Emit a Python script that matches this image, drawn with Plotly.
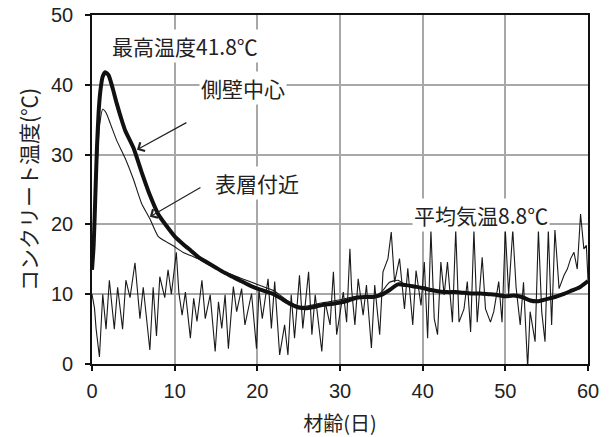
import plotly.graph_objects as go

# ---- data ----
core_day = [0, 0.2, 0.4, 0.6, 0.8, 1.0, 1.3, 1.6, 2.0, 2.5, 3, 3.5, 4, 5, 6, 7, 8, 9, 10,
            11, 12, 13, 14, 15, 16, 17, 18, 19, 20, 21, 22, 23, 24, 25, 26, 27, 28, 29, 30,
            31, 32, 33, 34, 35, 36, 37, 38, 39, 40, 41, 42, 43, 44, 45, 46, 47, 48, 49, 50,
            51, 52, 53, 54, 55, 56, 57, 58, 59, 60]
core_temp = [13.5, 17, 24, 31, 36, 39, 41.2, 41.8, 41.4, 39.5, 37.3, 35.3, 33.5, 31, 27.5, 24.2, 21.5, 19.8, 18.3,
             17.2, 16.2, 15.2, 14.5, 13.8, 13.1, 12.5, 11.9, 11.3, 10.8, 10.4, 10.0, 9.3, 8.6, 8.1, 8.0, 8.2, 8.5, 8.6, 8.8,
             9.1, 9.5, 9.6, 9.6, 9.9, 10.6, 11.4, 11.3, 11.1, 10.9, 10.6, 10.4, 10.3, 10.3, 10.2, 10.1, 10.1, 10.0, 9.9, 9.7,
             9.8, 9.6, 9.1, 9.0, 9.3, 9.6, 10.0, 10.5, 11.0, 11.9]

surf_day = [0, 0.3, 0.6, 0.9, 1.3, 1.7, 2.2, 3, 4, 5, 6, 7, 8, 9, 10, 11, 12, 13, 14, 16, 18, 20,
            22, 24, 25, 26, 28, 30, 32, 34, 35, 36, 37, 38, 40, 42, 44, 46, 48, 50, 52, 54, 56, 58, 60]
surf_temp = [13.5, 19, 28, 34, 36.5, 36, 34.5, 32, 29.5, 26.5, 23, 20.8, 18.3, 17.5, 16.8, 16, 15.5, 15, 14.3, 13.2, 12.3, 11.4,
             10.5, 8.8, 8.3, 8.3, 8.8, 9.2, 9.7, 9.7, 10.3, 11.7, 12, 11.3, 10.8, 10.4, 10.3, 10.1, 10.0, 9.7, 9.6, 9.0, 9.6, 10.5, 11.9]

air_day = [0.0, 0.3, 0.5, 0.9, 1.3, 1.7, 2.1, 2.7, 3.1, 3.7, 4.1, 4.6, 5.2, 5.8, 6.2, 7.0, 7.4, 7.8, 8.2, 8.8, 9.2, 9.6, 10.2,
           10.5, 10.9, 11.3, 11.9, 12.3, 12.7, 13.3, 13.7, 14.3, 14.9, 15.3, 15.7, 16.1, 16.5, 17.1, 17.5, 18.1, 18.5, 19.3, 19.9, 20.2, 20.6,
           21.3, 21.7, 22.1, 22.7, 23.3, 23.7, 24.1, 24.5, 25.1, 25.5, 26.2, 26.6, 27.0, 27.8, 28.2, 28.8, 29.2, 29.6, 30.4, 30.8,
           31.2, 31.4, 31.8, 32.2, 32.8, 33.2, 33.8, 34.2, 34.8, 35.2, 35.8, 36.2, 36.6, 37.2, 37.8, 38.2, 38.8, 39.2, 39.8, 40.2,
           40.6, 41.0, 41.4, 41.8, 42.2, 42.6, 43.0, 43.6, 44.0, 44.4, 45.0, 45.4, 45.8, 46.2, 46.6, 47.2, 47.6, 48.2, 48.6, 49.2, 49.6,
           50.0, 50.4, 50.9, 51.3, 51.8, 52.2, 52.7, 53.0, 53.6, 54.0, 54.4, 54.8, 55.2, 55.6, 56.0, 56.5, 57.1, 57.5, 57.9, 58.3, 58.7,
           59.1, 59.5, 59.8, 60.0]
air_temp = [10, 8, 5, 1, 10, 5, 12, 5, 11, 5, 12, 9.5, 14.5, 6.5, 11, 2, 11, 4, 12.5, 9.5, 13.5, 10, 16,
            10.3, 7, 10.3, 3.7, 9.4, 6.1, 12, 6.5, 9.9, 1.8, 8.9, 5.1, 9.9, 2.2, 11.1, 7.5, 10.8, 5.6, 10.1, 2.2, 10.6, 6.5,
            12.2, 5.1, 11.8, 1.3, 5.6, 1.3, 9.9, 3.7, 12.7, 5.1, 13.2, 4.2, 9.9, 1.8, 8.9, 5.6, 13.2, 4.2, 10.3, 6,
            16.5, 10.8, 5.6, 12.2, 7, 11.3, 2.3, 11.3, 4.2, 13.2, 15.1, 18.9, 11.7, 15.1, 7.9, 13.7, 5.6, 13.4, 8.4, 14.6,
            3.7, 19.2, 6.5, 4.2, 14.6, 9.9, 14.6, 6.0, 19.2, 6.0, 7.9, 11.8, 4.6, 19.2, 6.0, 15.3, 7.9, 6.0, 7.5, 11.8, 6.0,
            19.2, 10, 19.2, 11, 5.6, 11.7, -0.5, 7.5, 3.2, 19.2, 7.5, 3.2, 19.2, 5.6, 19.2, 10.8, 12.7, 13.6, 15.1, 16, 13.6,
            21.5, 16.5, 17, 12]

x_ticks = [0, 10, 20, 30, 40, 50, 60]
y_ticks = [0, 10, 20, 30, 40, 50]

JP = "Noto Sans CJK JP"
NUM = "Liberation Sans"

fig = go.Figure()
fig.add_trace(go.Scatter(x=air_day, y=air_temp, mode="lines",
                         line=dict(color="#1a1a1a", width=1.1), showlegend=False))
fig.add_trace(go.Scatter(x=surf_day, y=surf_temp, mode="lines",
                         line=dict(color="#1a1a1a", width=1.1, shape="spline", smoothing=0.6), showlegend=False))
fig.add_trace(go.Scatter(x=core_day, y=core_temp, mode="lines",
                         line=dict(color="#111111", width=4, shape="spline", smoothing=0.6), showlegend=False))

ann_font = dict(family=JP, size=21, color="#222222")
fig.add_annotation(x=11.3, y=45.5, text="最高温度41.8℃", showarrow=False, font=ann_font,
                   bgcolor="white", xref="x", yref="y")
fig.add_annotation(x=18.3, y=39.5, text="側壁中心", showarrow=False, font=ann_font,
                   bgcolor="white", xref="x", yref="y")
fig.add_annotation(x=20.0, y=25.9, text="表層付近", showarrow=False, font=ann_font,
                   bgcolor="white", xref="x", yref="y")
fig.add_annotation(x=47.1, y=21.3, text="平均気温8.8℃", showarrow=False, font=ann_font,
                   bgcolor="white", xref="x", yref="y")
# arrows
fig.add_annotation(x=5.44, y=30.7, ax=11.6, ay=34.7, axref="x", ayref="y", xref="x", yref="y",
                   text="", showarrow=True, arrowhead=4, arrowsize=1.6, arrowwidth=1.2, arrowcolor="#222222")
fig.add_annotation(x=7.0, y=21.1, ax=13.3, ay=25.4, axref="x", ayref="y", xref="x", yref="y",
                   text="", showarrow=True, arrowhead=4, arrowsize=1.6, arrowwidth=1.2, arrowcolor="#222222")

axis_common = dict(showline=True, linecolor="#111111", linewidth=1.6, mirror=True,
                   showgrid=True, gridcolor="#a8a8a8", gridwidth=1.5,
                   ticks="outside", ticklen=5, tickcolor="#111111", tickwidth=1.5,
                   zeroline=False, automargin=False,
                   tickfont=dict(family=NUM, size=20, color="#222222"))

fig.update_xaxes(range=[0, 60], tickvals=x_ticks, **axis_common, ticklabelstandoff=3,
                 title=dict(text="材齢(日)", font=dict(family=JP, size=20, color="#222222"), standoff=16))
fig.update_yaxes(range=[0, 50], tickvals=y_ticks, **axis_common, ticklabelstandoff=8,
                 title=dict(text="コンクリート温度(℃)", font=dict(family=JP, size=21, color="#222222"), standoff=8))

fig.update_layout(width=609, height=437, margin=dict(l=92, r=21, t=15, b=73),
                  plot_bgcolor="white", paper_bgcolor="white", showlegend=False)

fig.write_html("out.html")
